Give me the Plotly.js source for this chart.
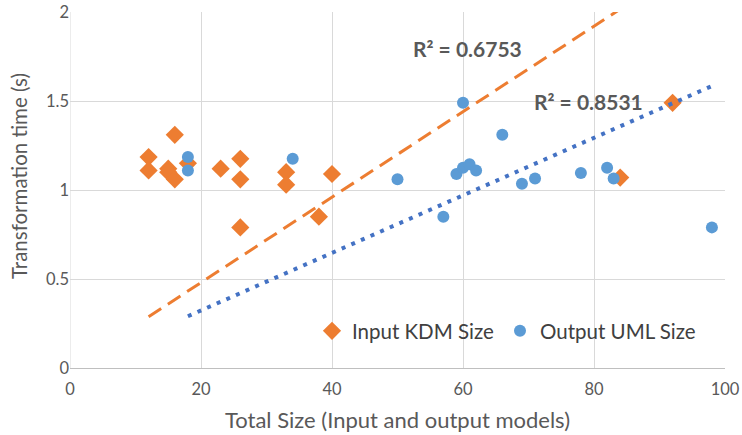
<!DOCTYPE html>
<html><head><meta charset="utf-8">
<script src="https://cdn.plot.ly/plotly-3.0.1.min.js"></script>
<style>body{margin:0;background:#fff}#c{width:742px;height:435px}</style>
</head><body><div id="c"></div>
<script>
const inputX = [12,12,15,15,16,16,18,23,26,26,26,33,33,38,40,84,92];
const inputY = [1.185,1.11,1.12,1.10,1.31,1.06,1.15,1.12,1.175,1.06,0.79,1.10,1.03,0.85,1.09,1.07,1.49];
const outputX = [18,18,34,50,57,59,60,60,61,62,66,69,71,78,82,83,98];
const outputY = [1.185,1.11,1.175,1.06,0.85,1.09,1.49,1.125,1.145,1.11,1.31,1.035,1.065,1.095,1.125,1.065,0.79];
const r2Labels = ["R² = 0.6753","R² = 0.8531"];
const seriesNames = ["Input KDM Size","Output UML Size"];
const xTitle = "Total Size (Input and output models)";
const yTitle = "Transformation time (s)";

function originSlope(xs, ys){let sxy=0,sxx=0;for(let i=0;i<xs.length;i++){sxy+=xs[i]*ys[i];sxx+=xs[i]*xs[i];}return sxy/sxx;}
function trend(xs, ys){const k=originSlope(xs,ys);const lo=Math.min(...xs),hi=Math.max(...xs);return {x:[lo,hi],y:[k*lo,k*hi]};}
const tIn = trend(inputX,inputY), tOut = trend(outputX,outputY);

const font = "Lato, 'Open Sans', sans-serif";
const data = [
 {x:inputX,y:inputY,type:'scatter',mode:'markers',name:seriesNames[0],legend:'legend',marker:{symbol:'diamond',size:14,color:'#ED7D31'}},
 {x:outputX,y:outputY,type:'scatter',mode:'markers',name:seriesNames[1],legend:'legend2',marker:{symbol:'circle',size:12,color:'#5B9BD5'}},
 {x:tIn.x,y:tIn.y,type:'scatter',mode:'lines',showlegend:false,hoverinfo:'skip',line:{color:'#ED7D31',width:3,dash:'15px,8px'}},
 {x:tOut.x,y:tOut.y,type:'scatter',mode:'lines',showlegend:false,hoverinfo:'skip',line:{color:'#4472C4',width:4,dash:'4px,6.5px'}}
];
const legendBase = {orientation:'h',xanchor:'left',y:0.104,yanchor:'middle',font:{size:20.5,color:'#404040'},bgcolor:'rgba(0,0,0,0)',itemwidth:30};
const layout = {
 width:742,height:435,margin:{l:70,r:17,t:12,b:67},
 paper_bgcolor:'#fff',plot_bgcolor:'#fff',
 font:{family:font,color:'#595959',size:16.5},
 showlegend:true,
 legend:Object.assign({},legendBase,{x:(312-70)/655}),
 legend2:Object.assign({},legendBase,{x:(500-70)/655}),
 xaxis:{range:[0,100],dtick:20,tick0:0,showgrid:true,gridcolor:'#D9D9D9',gridwidth:1,zeroline:false,showline:false,ticks:'',ticklabelstandoff:9,
   tickfont:{size:16.5,color:'#595959'},title:{text:xTitle,font:{size:22,color:'#595959'},standoff:15}},
 yaxis:{range:[0,2],dtick:0.5,tick0:0,showgrid:true,gridcolor:'#D9D9D9',gridwidth:1,zeroline:true,zerolinecolor:'#BFBFBF',zerolinewidth:1,showline:false,ticks:'',ticklabelstandoff:0,
   tickfont:{size:16.5,color:'#595959'}},
 shapes:[{type:'line',xref:'x',yref:'y',x0:0,x1:0,y0:0,y1:2,line:{color:'#D9D9D9',width:1},layer:'below'}],
 annotations:[
  {text:r2Labels[0],x:467,y:48,xanchor:'center',yanchor:'middle',font:{size:21,color:'#595959',family:font,weight:'bold'}},
  {text:r2Labels[1],x:588,y:102,xanchor:'center',yanchor:'middle',font:{size:21,color:'#595959',family:font,weight:'bold'}},
  {text:yTitle,x:19,y:176,xanchor:'center',yanchor:'middle',textangle:-90,font:{size:20.5,color:'#595959',family:font}}
 ]
};
layout.annotations.forEach(a=>{a.xref='paper';a.yref='paper';a.showarrow=false;a.x=(a.x-70)/655;a.y=(368-a.y)/356;});
Plotly.newPlot('c',data,layout,{staticPlot:true,displayModeBar:false});
</script></body></html>
